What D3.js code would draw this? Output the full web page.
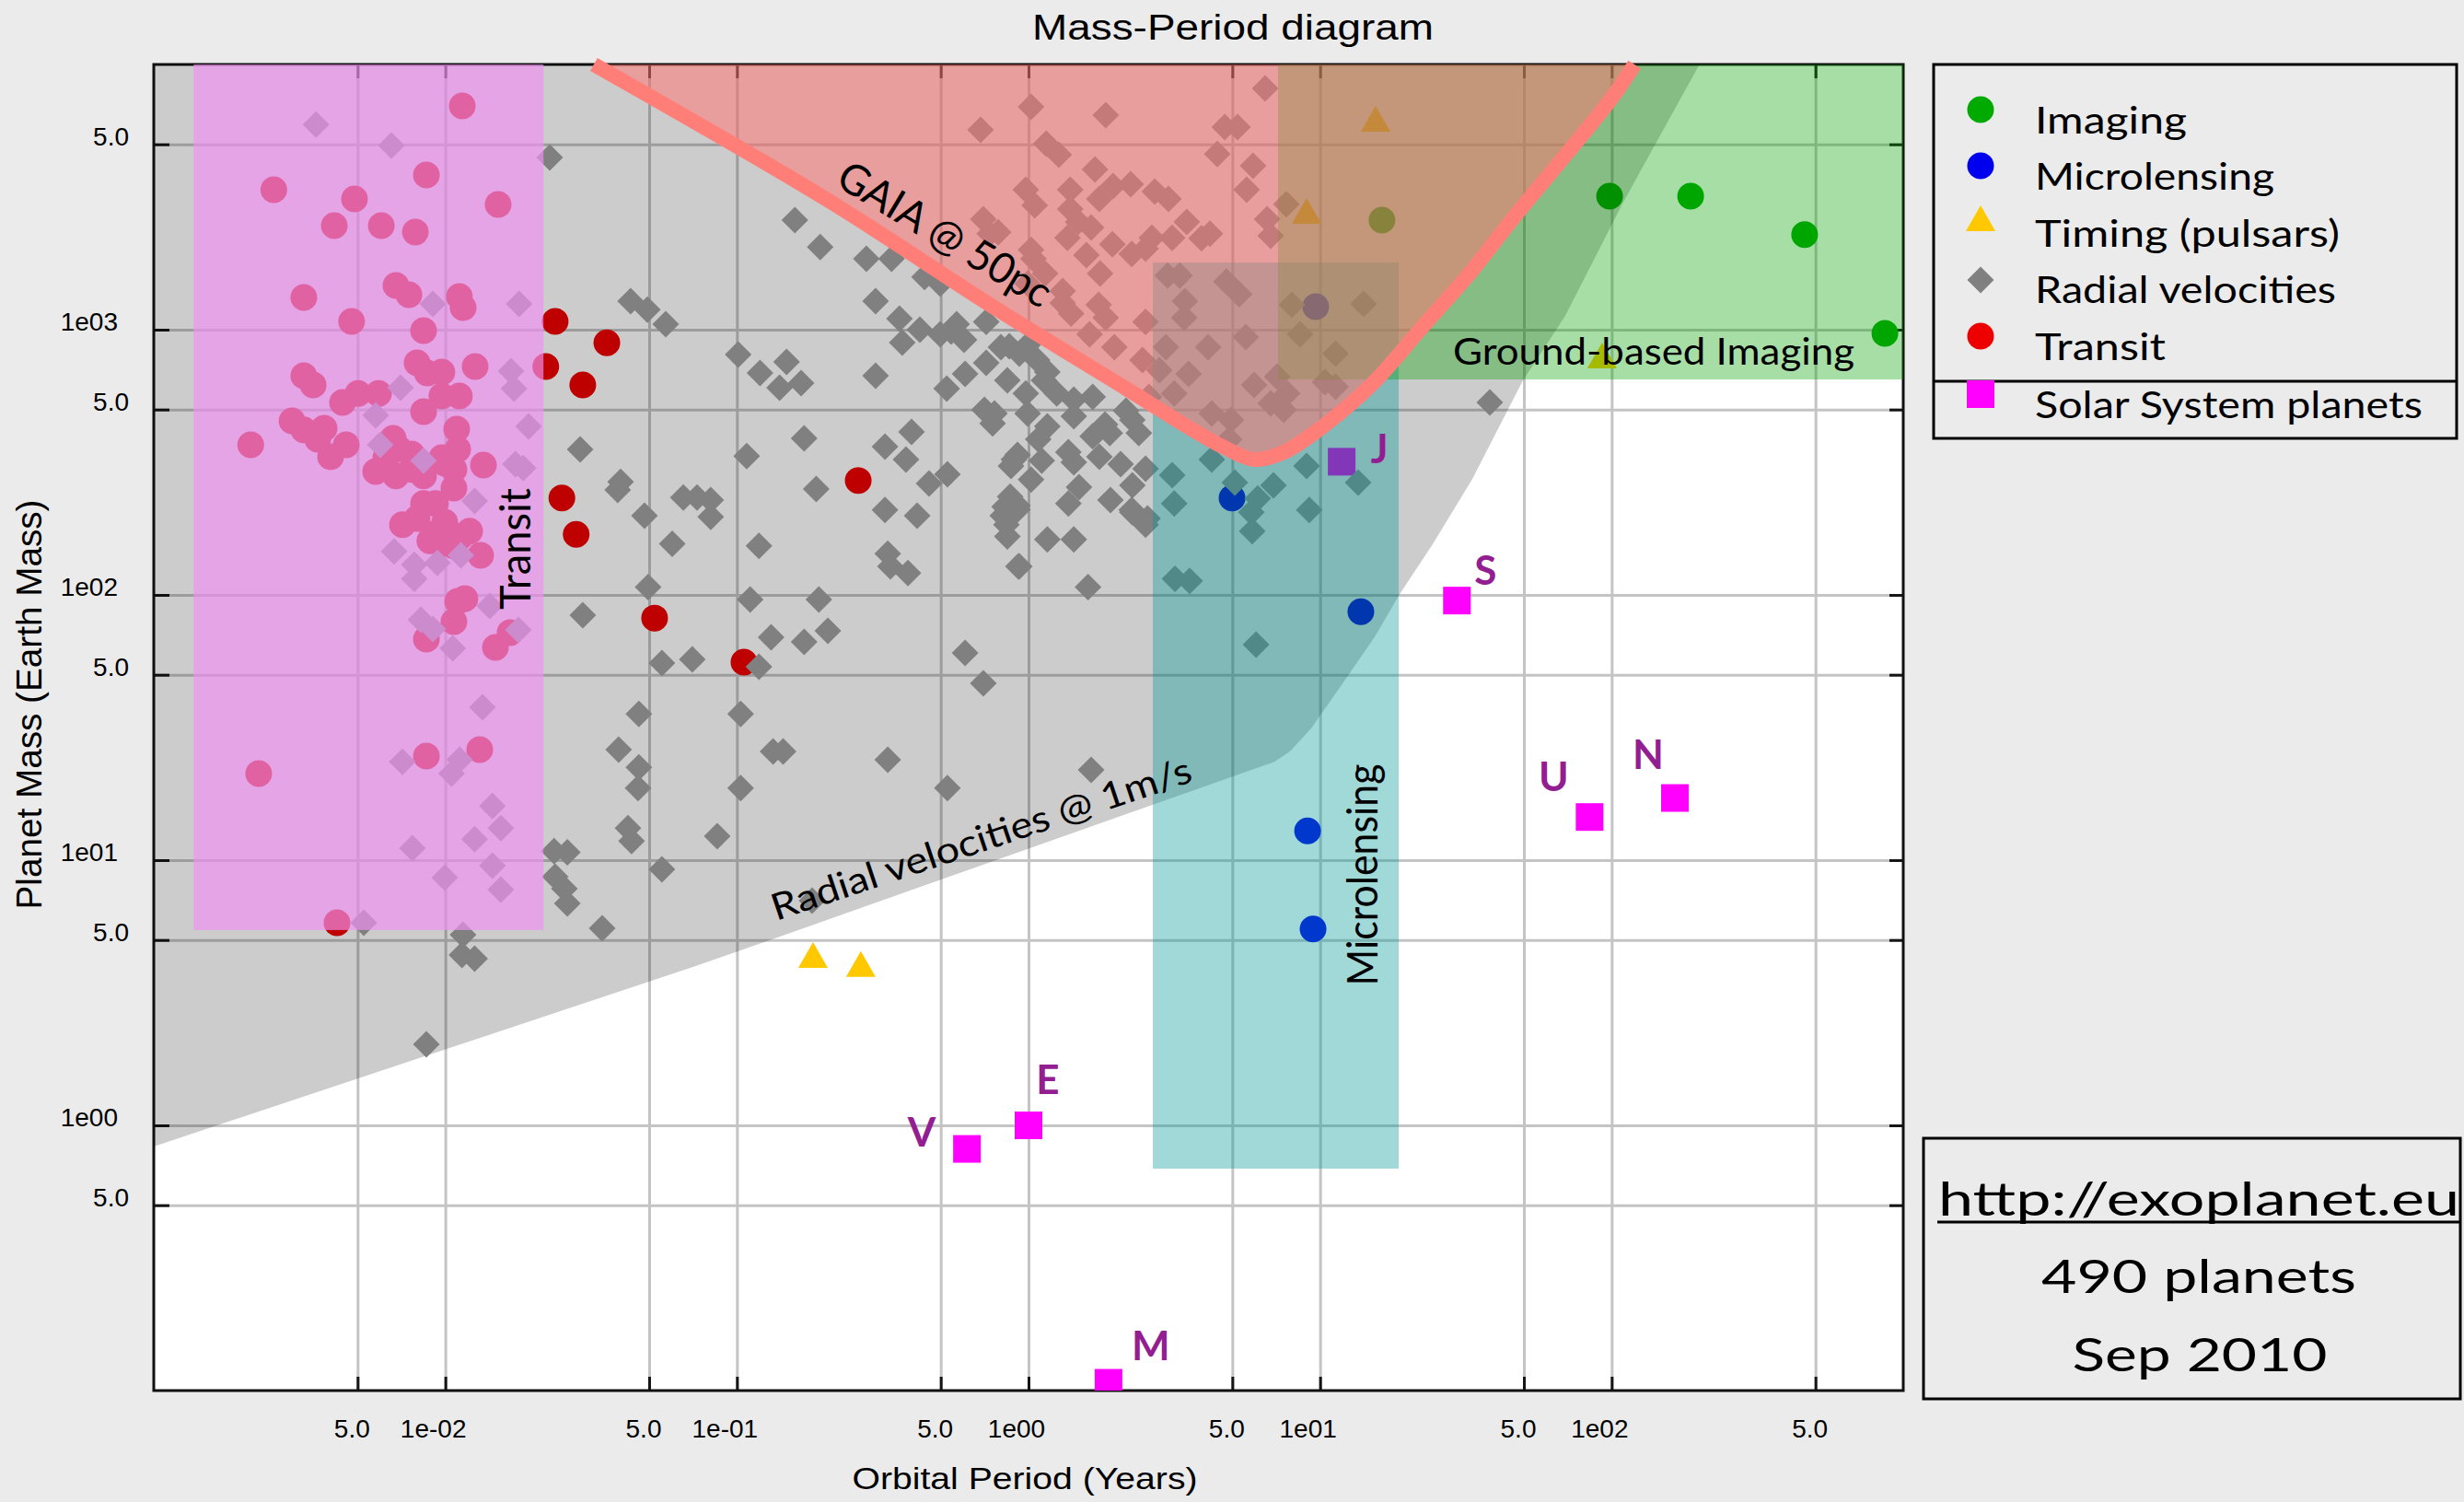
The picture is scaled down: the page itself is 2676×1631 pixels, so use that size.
<!DOCTYPE html>
<html><head><meta charset="utf-8">
<script src="https://cdnjs.cloudflare.com/ajax/libs/d3/7.8.5/d3.min.js"></script>
<style>html,body{margin:0;padding:0;background:#ebebeb;overflow:hidden}svg{display:block}</style>
</head><body>
<svg id="chart" width="2676" height="1631"></svg>
<script>
// ---------------- DATA (period in years, mass in Earth masses) ----------------
const xTickValues = [5e-3, 1e-2, 5e-2, 1e-1, 5e-1, 1, 5, 10, 50, 100, 500];
const xTickLabels = ["5.0","1e-02","5.0","1e-01","5.0","1e00","5.0","1e01","5.0","1e02","5.0"];
const yTickValues = [0.5, 1, 5, 10, 50, 100, 500, 1000, 5000];
const yTickLabels = ["5.0","1e00","5.0","1e01","5.0","1e02","5.0","1e03","5.0"];

const legendLabels = ["Imaging","Microlensing","Timing (pulsars)","Radial velocities","Transit","Solar System planets"];

const imaging = [[98.4,3186],[186.6,3186],[459,2281],[865,968],[16.3,2588]];
const microlensing = [[9.66,1222],[4.99,232],[13.8,86.5],[9.06,12.9],[9.46,5.50]];
const timing = [[15.5,6237],[8.99,2805],[0.1824,4.39],[0.266,4.06],[92.7,800]];
const transit = [[0.01143,6980],[0.00258,3370],[0.00861,3830],[0.00488,3110],[0.01517,2965],[0.00416,2466],[0.00603,2466],[0.00789,2333],
 [0.00327,1324],[0.00677,1468],[0.0075,1355],[0.01117,1334],[0.01151,1211],[0.00477,1075],[0.00842,993],[0.008,750],[0.00867,687],
 [0.00973,692],[0.01265,726],[0.00327,670],[0.00352,619],[0.00444,532],[0.00502,575],[0.0059,575],[0.00973,562],[0.01117,562],
 [0.00842,491],[0.00298,453],[0.00327,419],[0.00384,425],[0.00365,386],[0.00457,368],[0.00404,332],[0.00215,368],[0.01094,422],
 [0.00662,389],[0.01351,309],[0.00577,292],[0.00625,329],[0.00692,356],[0.00766,340],[0.00677,281],[0.00766,297],[0.00842,281],
 [0.00973,329],[0.01102,354],[0.0107,297],[0.0107,253],[0.00995,314],[0.00842,221],[0.00925,221],[0.00713,184],[0.008,194],
 [0.00905,169],[0.00995,188],[0.00973,156],[0.01127,166],[0.01211,174],[0.0107,153],[0.01321,141],[0.00885,160],[0.01102,94.6],
 [0.01167,96.8],[0.0107,79.3],[0.00861,68.1],[0.01485,63.4],[0.01667,72.1],[0.01312,26.1],[0.00861,24.7],[0.00229,21.2],[0.00425,5.81],
 [0.0238,1075],[0.0358,893],[0.0221,726],[0.0296,619],[0.2606,270],[0.0251,232],[0.0281,169],[0.0522,81.8],[0.1057,55.8]];
const radialVelocities = [
 [0.0036,5940],[0.00653,4950],[0.00906,1250],[0.0179,1250],[0.0168,698],[0.0172,600],[0.00702,604],[0.00577,475],[0.0193,432],
 [0.0174,311],[0.00598,368],[0.00842,321],[0.0185,301],[0.0126,226],[0.00667,146],[0.00783,130],[0.00783,115],[0.00939,132],
 [0.0113,141],[0.0142,90.8],[0.00824,80.6],[0.00906,74.4],[0.0106,62.9],[0.0178,73.8],[0.0134,37.7],[0.00712,23.5],[0.0105,21.2],
 [0.0112,23.9],[0.0145,16.0],[0.0155,13.2],[0.0126,12.0],[0.00771,11.1],[0.0145,9.53],[0.00995,8.59],[0.0155,7.74],[0.00525,5.81],
 [0.0115,5.23],[0.0114,4.39],[0.0126,4.25],[0.00861,2.02],
 [0.0228,4460],[0.0432,1280],[0.0493,1190],[0.057,1050],[0.101,806],[0.148,756],[0.12,687],[0.14,604],[0.166,629],[0.029,354],
 [0.0399,267],[0.039,249],[0.0482,199],[0.0655,233],[0.073,233],[0.0813,228],[0.0813,197],[0.108,334],[0.17,389],[0.158,2590],
 [0.193,2050],[0.278,1850],[0.339,1850],[0.44,1580],[0.498,1490],[0.299,1280],[0.361,1100],[0.369,894],[0.424,1000],[0.498,961],
 [0.543,984],[0.601,916],[0.716,1070],[0.859,866],[0.716,750],[0.606,681],[0.524,600],[0.299,670],[0.706,499],[0.753,443],
 [0.917,337],[0.871,306],[0.322,362],[0.397,412],[0.38,324],[0.527,285],[0.456,263],[0.187,251],[0.06,156],[0.119,153],
 [0.322,209],[0.415,199],[0.816,199],[0.917,210],[0.846,166],[0.329,143],[0.336,128],[0.386,121],[0.923,128],[0.0496,107],
 [0.111,96.1],[0.191,96.1],[0.0296,83.9],[0.205,73.2],[0.131,69.2],[0.17,66.5],[0.606,60.4],[0.0553,55.3],[0.0703,57.1],[0.119,53.6],
 [0.0461,35.6],[0.103,35.6],[0.0393,26.1],[0.0461,22.4],[0.0458,18.7],[0.133,25.7],[0.103,18.7],[0.0423,13.2],[0.0435,11.8],
 [0.0856,12.3],[0.0236,10.8],[0.0262,10.7],[0.0553,9.23],[0.0238,8.66],[0.0256,7.80],[0.0262,6.87],[0.0345,5.53],[0.181,7.03],
 [0.70,46.4],[0.329,23.9],[1.64,21.9],[0.527,18.7],[0.144,25.7],[1.60,107],[2.56,194],[2.26,209],[0.828,215],[1.16,162],[1.43,162],
 [0.93,128],[1.37,221],
 [3.16,221],[4.25,324],[5.10,265],[6.92,259],[6.11,231],[5.81,205],[5.85,174],[9.18,209],[8.99,306],[13.5,265],[3.18,115],[3.57,113],
 [6.03,64.9],[3.11,283],[38.2,532],
 [0.804,859],[0.93,812],[1.07,768],[0.846,644],[1.13,644],[0.979,575],[1.25,575],[1.43,545],[1.66,558],[0.764,483],[0.993,483],
 [1.16,432],[1.43,472],[1.66,396],[1.90,408],[2.27,457],[2.39,408],[0.891,324],[1.08,386],[1.37,345],[1.43,316],[2.27,259],[2.52,299],
 [0.917,217],[2.27,205],[2.52,184],[0.84,184],[0.567,1050],[1.02,901],[1.83,439],[2.16,495],[2.07,311],[1.75,332],[1.02,272],
 [1.49,255],[1.91,228],[0.865,235],[1.11,321],[1.16,692],
 [1.02,6920],[1.84,6440],[6.48,8120],[1.15,5030],[1.27,4570],[1.69,4020],[4.71,5810],[5.21,5810],[4.44,4600],[5.89,4150],[0.979,3370],
 [1.05,2940],[1.39,3370],[1.95,3480],[2.24,3540],[2.71,3320],[3.02,3110],[1.75,3110],[5.60,3370],[7.66,2970],[6.58,2610],[6.77,2260],
 [1.39,2850],[1.48,2550],[1.64,2430],[1.36,2220],[1.94,2100],[2.65,2220],[3.11,2220],[3.49,2550],[4.19,2300],[3.92,2210],[2.26,1930],
 [2.52,2020],[0.787,2330],[1.04,1850],[1.14,1630],[1.76,1630],[0.993,1490],[1.31,1260],[1.40,1150],[1.74,1240],[1.84,1110],[2.52,1070],
 [1.62,961],[1.97,859],[2.46,768],[2.81,703],[3.0,1600],[3.30,1600],[3.44,1280],[3.42,1110],[4.77,1520],[5.28,1360],[5.56,938],
 [4.13,859],[3.54,681],[2.96,859],[3.16,575],[2.59,558],[4.25,483],[4.95,457],[4.88,386],[5.94,619],[6.77,527],[7.50,499],[7.71,575],
 [8.0,1240],[8.54,961],[11.3,812],[14.1,1250],[10.4,634],[11.3,609],[7.12,665],[0.685,5670],[0.70,2610],[0.736,2300],[1.02,2000],
 [1.58,1910],[1.31,1400]];

const solarNames = ["V","E","M","J","S","U","N"];
const solarPeriod = [0.615, 1.0, 1.881, 11.86, 29.46, 84.01, 164.8];
const solarMass = [0.815, 1.0, 0.107, 317.8, 95.2, 14.54, 17.15];

// Detection-limit curves
const rvLimitPeriod = [0.001, 0.0703, 0.1435, 6.97, 7.88, 9.32, 12.0, 15.4, 18.6, 24.3, 33.3, 49.5, 69.3, 109, 200];
const rvLimitMass   = [0.832, 3.95, 5.19, 23.5, 25.7, 31.4, 46.7, 69.5, 99.3, 155, 274, 640, 1127, 2992, 10000];
const gaiaPeriod = [0.0323, 0.2065, 0.764, 2.16, 3.62, 4.71, 5.94, 7.50, 10.2, 15.2, 22.3, 33.0, 44.9, 99.8, 119.7];
const gaiaMass   = [10000, 3062, 1211, 600, 422, 359, 324, 345, 431, 629, 1016, 1656, 2547, 7447, 10000];

// Sensitivity zones: transit, microlensing, ground-based imaging
const zonePeriodLo = [0.00137, 2.67, 7.17];
const zonePeriodHi = [0.0217, 18.6, 1000];
const zoneMassLo   = [5.45, 0.687, 649];
const zoneMassHi   = [10000, 1791, 10000];

// ---------------- LAYOUT ----------------
const W = 2676, H = 1631;
const plot = {left:167, right:2067, top:70, bottom:1510};
const SANS = "'Liberation Sans', Arial, Helvetica, sans-serif";
const HUM = "Lato, 'Open Sans', sans-serif";

const svg = d3.select("#chart");
svg.append("rect").attr("width", W).attr("height", H).attr("fill", "#ebebeb");

const x = d3.scaleLog().domain([1e-3, 1e3]).range([plot.left, plot.right]);
const y = d3.scaleLog().domain([1e-1, 1e4]).range([plot.bottom, plot.top]);

svg.append("defs").append("clipPath").attr("id", "plotClip").append("rect")
  .attr("x", plot.left).attr("y", plot.top)
  .attr("width", plot.right - plot.left).attr("height", plot.bottom - plot.top);

svg.append("rect").attr("x", plot.left).attr("y", plot.top)
  .attr("width", plot.right - plot.left).attr("height", plot.bottom - plot.top).attr("fill", "#ffffff");

// grid
const gridG = svg.append("g");
gridG.append("g").attr("transform", `translate(0,${plot.bottom})`)
  .call(d3.axisBottom(x).tickValues(xTickValues).tickSize(-(plot.bottom - plot.top)).tickFormat(""))
  .call(g => g.select(".domain").remove())
  .call(g => g.selectAll("line").attr("stroke", "#c4c4c4").attr("stroke-width", 3));
gridG.append("g").attr("transform", `translate(${plot.left},0)`)
  .call(d3.axisLeft(y).tickValues(yTickValues).tickSize(-(plot.right - plot.left)).tickFormat(""))
  .call(g => g.select(".domain").remove())
  .call(g => g.selectAll("line").attr("stroke", "#c4c4c4").attr("stroke-width", 3));

// ticks + frame
const tickG = svg.append("g");
function tickStyle(g){ g.select(".domain").remove(); g.selectAll("line").attr("stroke", "#151515").attr("stroke-width", 3); }
tickG.append("g").attr("transform", `translate(0,${plot.bottom})`)
  .call(d3.axisBottom(x).tickValues(xTickValues).tickSizeInner(-15).tickSizeOuter(0).tickFormat("")).call(tickStyle);
tickG.append("g").attr("transform", `translate(0,${plot.top})`)
  .call(d3.axisTop(x).tickValues(xTickValues).tickSizeInner(-15).tickSizeOuter(0).tickFormat("")).call(tickStyle);
tickG.append("g").attr("transform", `translate(${plot.left},0)`)
  .call(d3.axisLeft(y).tickValues(yTickValues).tickSizeInner(-17).tickSizeOuter(0).tickFormat("")).call(tickStyle);
tickG.append("g").attr("transform", `translate(${plot.right},0)`)
  .call(d3.axisRight(y).tickValues(yTickValues).tickSizeInner(-15).tickSizeOuter(0).tickFormat("")).call(tickStyle);
tickG.append("rect").attr("x", plot.left).attr("y", plot.top)
  .attr("width", plot.right - plot.left).attr("height", plot.bottom - plot.top)
  .attr("fill", "none").attr("stroke", "#111").attr("stroke-width", 3);

// marker shapes
const SHAPE = {
  circle: d3.symbol(d3.symbolCircle, Math.PI * 14.5 * 14.5)(),
  diamond: "M0,-14.5L14.5,0L0,14.5L-14.5,0Z",
  triangle: "M0,-14L16,14L-16,14Z",
  square: "M-15,-15H15V15H-15Z"
};
const COLORS = {imaging:"#00aa00", micro:"#0000ee", timing:"#ffc800", rv:"#808080", transit:"#ee0000", solar:"#ff00ff"};

const clipG = svg.append("g").attr("clip-path", "url(#plotClip)");
function drawSeries(g, data, shape, color){
  g.append("g").selectAll("path").data(data).join("path")
    .attr("d", SHAPE[shape]).attr("fill", color)
    .attr("transform", d => `translate(${x(d[0])},${y(d[1])})`);
}
// points below the detection-zone overlays
const lowG = clipG.append("g");
drawSeries(lowG, transit, "circle", COLORS.transit);
drawSeries(lowG, microlensing, "circle", COLORS.micro);
drawSeries(lowG, imaging, "circle", COLORS.imaging);
drawSeries(lowG, timing, "triangle", COLORS.timing);
const solar = solarNames.map((n, i) => [solarPeriod[i], solarMass[i], n]);
drawSeries(lowG, solar, "square", COLORS.solar);

// Radial velocity sensitivity region
const rvPoly = rvLimitPeriod.map((p, i) => [p, rvLimitMass[i]]).concat([[1e-3, 1e4]]);
const lin = d3.line().x(d => x(d[0])).y(d => y(d[1]));
clipG.append("path").attr("d", lin(rvPoly) + "Z").attr("fill", "#000").attr("fill-opacity", 0.2);

// radial velocity planets
drawSeries(clipG, radialVelocities, "diamond", COLORS.rv);

// detection zones
const zoneFill = ["rgb(240,145,240)", "rgb(0,150,150)", "rgb(0,160,0)"];
const zoneOpacity = [0.68, 0.37, 0.35];
zonePeriodLo.forEach((p0, i) => {
  clipG.append("rect")
    .attr("x", x(p0)).attr("width", x(zonePeriodHi[i]) - x(p0))
    .attr("y", y(zoneMassHi[i])).attr("height", y(zoneMassLo[i]) - y(zoneMassHi[i]))
    .attr("fill", zoneFill[i]).attr("fill-opacity", zoneOpacity[i]);
});

// GAIA region
const gaiaPts = gaiaPeriod.map((p, i) => [p, gaiaMass[i]]);
const gaiaLine = d3.line().x(d => x(d[0])).y(d => y(d[1])).curve(d3.curveCatmullRom.alpha(0.5));
clipG.append("path").attr("d", gaiaLine(gaiaPts) + "Z")
  .attr("fill", "rgb(255,117,113)").attr("fill-opacity", 0.53);
svg.append("path").attr("d", gaiaLine(gaiaPts)).attr("fill", "none")
  .attr("stroke", "#ff7f78").attr("stroke-width", 16).attr("stroke-linecap", "butt");

// text helper
function txt(parent, s, o){
  const t = parent.append("text").text(s)
    .attr("font-family", o.family || HUM).attr("font-size", o.size)
    .attr("fill", o.fill || "#000").attr("text-anchor", o.anchor || "start");
  if (o.weight) t.attr("font-weight", o.weight);
  if (o.len) t.attr("textLength", o.len).attr("lengthAdjust", "spacingAndGlyphs");
  t.attr("transform", `translate(${o.x},${o.y})` + (o.rot ? ` rotate(${o.rot})` : ""));
  return t;
}

// zone labels
const lab = svg.append("g");
txt(lab, "Transit", {x: 576, y: 596, size: 46, anchor: "middle", rot: -90, len: 132});
txt(lab, "Microlensing", {x: 1496, y: 950, size: 46, anchor: "middle", rot: -90, len: 241});
txt(lab, "GAIA @ 50pc", {x: 1018, y: 268, size: 46, anchor: "middle", rot: 31, len: 262});
txt(lab, "Radial velocities @ 1m/s", {x: 1070, y: 924, size: 40, anchor: "middle", rot: -18.5, len: 479});
txt(lab, "Ground-based Imaging", {x: 1578, y: 396, size: 40, len: 436});

// solar system labels
const solarLabelOffset = {V:[-49,-18], E:[21,-49], M:[46,-40], J:[41,-13], S:[31,-32], U:[-39,-43], N:[-29,-47]};
solar.forEach(d => {
  const o = solarLabelOffset[d[2]];
  txt(lab, d[2], {x: x(d[0]) + o[0], y: y(d[1]) + o[1] + 15, size: 44, weight: "bold",
    anchor: "middle", fill: "#921e92"});
});

// tick labels
const tl = svg.append("g");
xTickValues.forEach((v, i) => {
  const isFive = xTickLabels[i] === "5.0";
  txt(tl, xTickLabels[i], {x: x(v) + (isFive ? -6 : -13), y: 1561, size: 28, family: SANS, anchor: "middle"});
});
yTickValues.forEach((v, i) => {
  const isFive = yTickLabels[i] === "5.0";
  txt(tl, yTickLabels[i], {x: isFive ? 140 : 128, y: y(v) + 1, size: 28, family: SANS, anchor: "end"});
});

// titles
txt(svg, "Mass-Period diagram", {x: 1339, y: 43, size: 38, family: SANS, anchor: "middle", len: 436});
txt(svg, "Orbital Period (Years)", {x: 1113, y: 1617, size: 34, family: SANS, anchor: "middle", len: 375});
txt(svg, "Planet Mass (Earth Mass)", {x: 45, y: 765, size: 38, family: SANS, anchor: "middle", rot: -90, len: 445});

// legend
const leg = svg.append("g");
leg.append("rect").attr("x", 2100).attr("y", 70).attr("width", 568).attr("height", 406)
  .attr("fill", "none").attr("stroke", "#000").attr("stroke-width", 3);
leg.append("line").attr("x1", 2100).attr("x2", 2668).attr("y1", 414).attr("y2", 414)
  .attr("stroke", "#000").attr("stroke-width", 3);
const legShape = ["circle","circle","triangle","diamond","circle","square"];
const legColor = [COLORS.imaging, COLORS.micro, COLORS.timing, COLORS.rv, COLORS.transit, COLORS.solar];
const legMarkY = [119, 180, 237, 304, 365, 428];
const legTextY = [145, 206, 268, 329, 391, 454];
const legLen = [165, 260, 331, 327, 142, 421];
legendLabels.forEach((s, i) => {
  leg.append("path").attr("d", SHAPE[legShape[i]]).attr("fill", legColor[i])
    .attr("transform", `translate(2151,${legMarkY[i]})`);
  txt(leg, s, {x: 2210, y: legTextY[i], size: 41, len: legLen[i]});
});

// info box
const box = svg.append("g");
box.append("rect").attr("x", 2089).attr("y", 1236).attr("width", 583).attr("height", 283)
  .attr("fill", "none").attr("stroke", "#000").attr("stroke-width", 3);
txt(box, "http://exoplanet.eu", {x: 2105, y: 1320, size: 50, len: 566});
box.append("line").attr("x1", 2104).attr("x2", 2671).attr("y1", 1327).attr("y2", 1327)
  .attr("stroke", "#000").attr("stroke-width", 3);
txt(box, "490 planets", {x: 2388, y: 1404, size: 50, anchor: "middle", len: 342});
txt(box, "Sep 2010", {x: 2389, y: 1489, size: 50, anchor: "middle", len: 277});
</script>
</body></html>
